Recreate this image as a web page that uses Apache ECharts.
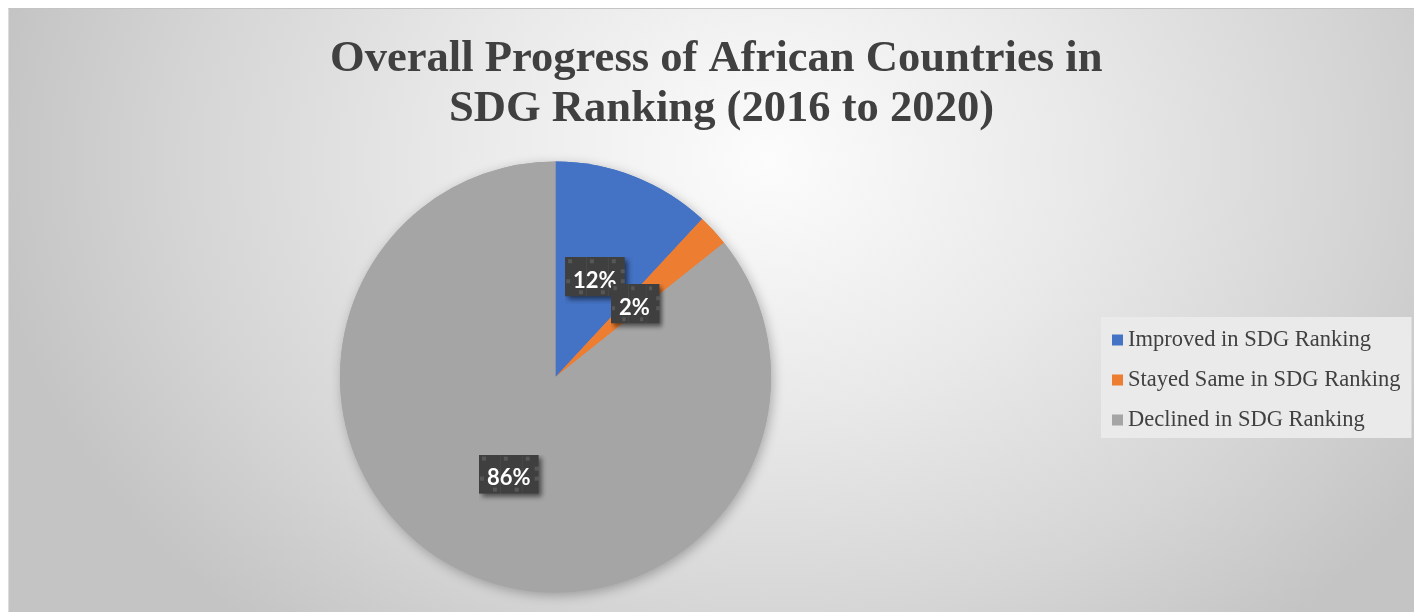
<!DOCTYPE html>
<html>
<head>
<meta charset="utf-8">
<script src="https://cdn.jsdelivr.net/npm/echarts@6/dist/echarts.min.js"></script>
<style>
  html, body { margin: 0; padding: 0; background: #ffffff; }
  #chart {
    position: absolute; left: 8px; top: 8px;
    width: 1405px; height: 603px;
    border-top: 1px solid #c4c4c4; border-left: 1px solid #dcdcdc;
    background: radial-gradient(ellipse 780px 620px at 54% 25%, #fcfcfc 0%, #e9e9e9 40%, #d5d5d5 75%, #c4c4c4 100%);
  }
</style>
</head>
<body>
<div id="chart"></div>
<script>
const titleLines = ['Overall Progress of African Countries in', 'SDG Ranking (2016 to 2020)'];
const categories = ['Improved in SDG Ranking', 'Stayed Same in SDG Ranking', 'Declined in SDG Ranking'];
const counts = [5, 1, 36];
const colors = ['#4472C4', '#ED7D31', '#A5A5A5'];

// dotted dark label background with its own soft drop shadow
function makeLabelBg() {
  const c = document.createElement('canvas');
  c.width = 68; c.height = 47;
  const g = c.getContext('2d');
  g.save();
  g.shadowColor = 'rgba(0,0,0,0.55)';
  g.shadowBlur = 5;
  g.shadowOffsetX = 3;
  g.shadowOffsetY = 3;
  g.fillStyle = '#3f3f3f';
  g.fillRect(0, 0, 60, 39);
  g.restore();
  g.fillStyle = '#575757';
  const pts = [[3,2],[25,2],[47,2],[56,12],[1,22],[56,22],[14,33],[36,33]];
  pts.forEach(p => g.fillRect(p[0], p[1], 4, 4));
  g.fillStyle = 'rgba(90,90,90,0.35)';
  g.fillRect(21, 0, 1, 39);
  g.fillRect(43, 0, 1, 39);
  return c;
}
const labelBg = makeLabelBg();

const pieCenter = [546.5, 368];
const pieRadius = 215.5;
const seriesData = categories.map((n, i) => ({ name: n, value: counts[i] }));

const titleFont = {
  fontFamily: '"Liberation Serif", "Times New Roman", serif',
  fontSize: 44.6,
  fontWeight: 'bold',
  color: '#404040',
  lineHeight: 50
};

const chart = echarts.init(document.getElementById('chart'), null, { renderer: 'canvas' });
chart.setOption({
  backgroundColor: 'transparent',
  animation: false,
  title: [
    { text: titleLines[0], left: 321, top: 25, padding: 0, textStyle: titleFont },
    { text: titleLines[1], left: 440, top: 75, padding: 0, textStyle: titleFont }
  ],
  legend: {
    orient: 'vertical',
    left: 1092,
    top: 308,
    padding: [11.5, 11, 6.5, 11],
    backgroundColor: '#eaeaea',
    itemWidth: 11,
    itemHeight: 11,
    itemGap: 17,
    icon: 'rect',
    data: categories,
    textStyle: {
      fontFamily: '"Liberation Serif", "Times New Roman", serif',
      fontSize: 22.5,
      lineHeight: 22.5,
      color: '#404040'
    }
  },
  series: [
    {
      // soft drop shadow under the pie
      type: 'pie',
      silent: true,
      z: 1,
      center: pieCenter,
      radius: pieRadius,
      startAngle: 90,
      color: colors,
      itemStyle: {
        shadowBlur: 12,
        shadowColor: 'rgba(0,0,0,0.28)',
        shadowOffsetX: 2,
        shadowOffsetY: 3
      },
      label: { show: false },
      labelLine: { show: false },
      emphasis: { disabled: true },
      data: seriesData
    },
    {
      type: 'pie',
      z: 2,
      center: pieCenter,
      radius: pieRadius,
      startAngle: 90,
      clockwise: true,
      percentPrecision: 0,
      avoidLabelOverlap: false,
      color: colors,
      itemStyle: { borderWidth: 0 },
      label: {
        show: true,
        position: 'outside',
        alignTo: 'none',
        distanceToLabelLine: 0,
        formatter: '{d}%',
        fontFamily: 'Lato, "Open Sans", sans-serif',
        fontWeight: 'bold',
        fontSize: 22,
        lineHeight: 23,
        color: '#ffffff',
        backgroundColor: { image: labelBg },
        padding: [8, 16, 16, 8]
      },
      labelLine: { show: false, length: -pieRadius / 2, length2: 0 },
      labelLayout: function () {
        return { align: 'center', verticalAlign: 'middle', dx: 4, dy: 4 };
      },
      emphasis: { disabled: true },
      data: seriesData
    }
  ]
});
</script>
</body>
</html>
